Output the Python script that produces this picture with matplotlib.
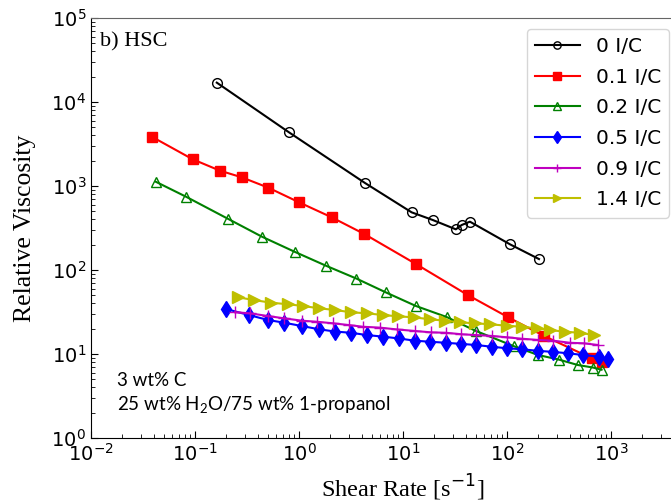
import numpy as np
import matplotlib.pyplot as plt

# 0 I/C
x0 = [0.162, 0.80, 4.31, 12.1, 19.3, 32.2, 36.6, 44.0, 107, 203]
y0 = [17000, 4360, 1086, 486, 394, 305, 343, 376, 202, 135]

# 0.1 I/C
x1 = [0.0384, 0.095, 0.174, 0.281, 0.507, 1.0, 2.06, 4.25, 13.3, 41.9, 103, 227, 652, 813]
y1 = [3864, 2080, 1521, 1270, 955, 640, 424, 268, 118, 50.4, 27.3, 16.4, 8.9, 8.1]

# 0.2 I/C
x2 = [0.0419, 0.0819, 0.209, 0.438, 0.916, 1.80, 3.57, 6.87, 13.3, 26.2, 49.8, 116, 199, 313, 479, 671, 811]
y2 = [1125, 746, 405, 250, 164, 113, 79, 54, 37.3, 27.6, 18.9, 12.4, 9.73, 8.6, 7.4, 6.9, 6.5]

# 0.5 I/C
x5 = [0.199, 0.330, 0.503, 0.718, 1.07, 1.56, 2.22, 3.16, 4.51, 6.42, 9.16, 13.0, 18.2,
      25.9, 36.1, 50.3, 71.8, 100, 139, 199, 277, 386, 538, 767, 936]
y5 = [34.3, 29.1, 25.4, 23.6, 21.5, 19.7, 18.5, 17.9, 16.8, 16.1, 15.3, 14.4, 14.0,
      13.6, 13.2, 12.8, 12.2, 11.7, 11.4, 10.9, 10.6, 10.2, 9.73, 9.29, 8.72]

# 0.9 I/C
x9 = [0.243, 0.338, 0.503, 0.718, 1.07, 1.49, 2.12, 3.03, 4.12, 6.01, 8.75, 13.0,
      18.6, 25.9, 36.1, 50.3, 71.8, 100, 139, 199, 277, 403, 550, 750]
y9 = [31.4, 30.5, 28.3, 26.6, 24.9, 24.2, 23.2, 22.1, 21.1, 20.6, 19.6, 18.8,
      18.1, 17.9, 17.2, 16.8, 16.4, 15.8, 15.2, 14.7, 14.4, 13.6, 13.4, 12.8]

# 1.4 I/C
x14 = [0.259, 0.369, 0.538, 0.784, 1.09, 1.56, 2.22, 3.16, 4.51, 6.42, 8.95, 12.8,
       18.2, 25.3, 35.3, 49.2, 68.7, 100, 139, 194, 259, 361, 503, 687]
y14 = [47.3, 43.9, 40.8, 39.1, 37.3, 35.0, 33.4, 31.4, 30.5, 29.1, 28.1, 27.3,
       25.9, 24.9, 23.8, 23.2, 22.6, 21.7, 21.1, 20.2, 19.3, 18.4, 17.9, 16.8]

xticks = [1e-2, 1e-1, 1e0, 1e1, 1e2, 1e3]

fig = plt.figure(figsize=(6.71, 5.04), dpi=100)
# axes run to 1e4, past the right edge of the figure
ax = fig.add_axes([91/671, 66/504, 624/671, 420/504])

ax.plot(x0, y0, 'k-o', mfc='none', ms=7, lw=1.5, label='0 I/C')
ax.plot(x1, y1, 'r-s', ms=7, lw=1.5, label='0.1 I/C')
ax.plot(x2, y2, 'g-^', mfc='none', ms=7, lw=1.5, label='0.2 I/C')
ax.plot(x5, y5, 'b-d', ms=8, lw=1.5, label='0.5 I/C')
ax.plot(x9, y9, 'm-+', ms=8, lw=1.5, label='0.9 I/C')
ax.plot(x14, y14, 'y->', ms=8, lw=1.5, label='1.4 I/C')

ax.set_xscale('log')
ax.set_yscale('log')
ax.set_xlim(1e-2, 1e4)
ax.set_ylim(1e0, 1e5)
ax.set_xticks(xticks)
ax.tick_params(which='both', direction='in', top=False, right=False, labelsize=14)
ax.tick_params(which='major', length=5)
ax.tick_params(which='minor', length=3)
for s in ['top', 'right']:
    ax.spines[s].set_color('#666666')

ax.set_xlabel('Shear Rate [s$^{-1}$]', family='Liberation Serif', fontsize=17.5, labelpad=6)
ax.set_ylabel('Relative Viscosity', family='Liberation Serif', fontsize=18.5)
ax.yaxis.set_label_coords(-0.088, 0.5)
ax.text(0.0122, 5.2e4, 'b) HSC', family='Liberation Serif', fontsize=16, va='center')

ax.text(0.0178, 4.9, '3 wt% C', family='Lato', fontsize=13.5, va='center')
ax.text(0.0178, 2.47, r'25 wt% H$_{\mathregular{2}}$O/75 wt% 1-propanol',
        family='Lato', fontsize=13.5, va='center')

ax.legend(loc='upper right', bbox_to_anchor=(669/671, 1 - 29/504),
          bbox_transform=fig.transFigure, borderaxespad=0, fontsize=14.5,
          handlelength=2.2, handletextpad=0.8, markerscale=0.75, labelspacing=0.58)

fig.savefig('out.png', dpi=100)
